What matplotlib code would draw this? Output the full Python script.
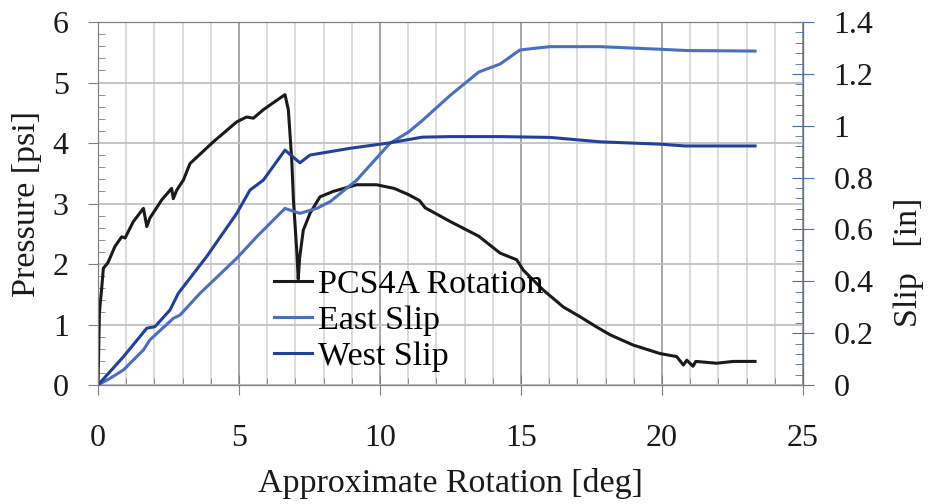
import numpy as np
import matplotlib
matplotlib.use("Agg")
import matplotlib.pyplot as plt
from matplotlib.ticker import MultipleLocator

plt.rcParams['font.family'] = ['Liberation Serif', 'DejaVu Serif']

# pressure (black) vs rotation
rot_p = [0.0, 0.05, 0.13, 0.19, 0.35, 0.6, 0.84, 0.96, 1.25, 1.61, 1.73, 1.84, 2.26,
         2.61, 2.67, 2.79, 3.03, 3.26, 4.09, 4.92, 5.27, 5.51, 5.86, 6.63, 6.75, 6.87,
         6.93, 7.05, 7.1, 7.15, 7.28, 7.52, 7.87, 8.34, 9.17, 9.88, 10.5, 11.0, 11.4,
         11.6, 12.5, 13.5, 14.26, 14.85, 15.08, 15.79, 16.5, 17.09, 17.68, 18.16, 18.98,
         19.93, 20.52, 20.76, 20.88, 21.1, 21.2, 21.94, 22.53, 23.3]
pressure = [0.0, 1.2, 1.6, 1.93, 2.02, 2.29, 2.45, 2.43, 2.7, 2.92, 2.62, 2.76, 3.06,
            3.25, 3.08, 3.22, 3.39, 3.66, 4.02, 4.35, 4.43, 4.41, 4.55, 4.8, 4.55, 3.72,
            3.06, 2.2, 1.75, 2.1, 2.56, 2.84, 3.11, 3.2, 3.31, 3.31, 3.25, 3.15, 3.05,
            2.93, 2.7, 2.46, 2.18, 2.07, 1.9, 1.57, 1.29, 1.13, 0.96, 0.83, 0.66,
            0.52, 0.47, 0.33, 0.41, 0.31, 0.39, 0.36, 0.39, 0.39]

# east slip (light blue)
rot_e = [0.0, 0.43, 0.9, 1.61, 1.84, 2.67, 2.91, 3.62, 4.92, 5.63, 6.63, 7.16, 7.75,
         8.23, 9.17, 10.35, 11.0, 11.5, 12.5, 13.5, 14.26, 14.96, 15.43, 16.03, 17.8,
         19.93, 20.88, 23.3]
east = [0.0, 0.026, 0.058, 0.135, 0.174, 0.257, 0.27, 0.354, 0.489, 0.572, 0.681, 0.662,
        0.681, 0.707, 0.79, 0.932, 0.975, 1.02, 1.118, 1.207, 1.238, 1.292, 1.298, 1.305,
        1.305, 1.295, 1.29, 1.288]

# west slip (dark blue)
rot_w = [0.0, 0.9, 1.73, 2.02, 2.55, 2.85, 3.85, 4.92, 5.39, 5.86, 6.63, 7.16, 7.52,
         8.94, 10.35, 11.5, 12.5, 14.26, 16.03, 17.8, 19.93, 20.82, 23.3]
west = [0.0, 0.109, 0.219, 0.225, 0.289, 0.354, 0.495, 0.662, 0.752, 0.79, 0.906, 0.857,
        0.887, 0.913, 0.934, 0.956, 0.958, 0.958, 0.955, 0.938, 0.929, 0.922, 0.922]

x_ticks = [0, 5, 10, 15, 20, 25]
p_ticks = [0, 1, 2, 3, 4, 5, 6]
s_ticks = [0, 0.2, 0.4, 0.6, 0.8, 1.0, 1.2, 1.4]
s_labels = ['0', '0.2', '0.4', '0.6', '0.8', '1', '1.2', '1.4']

c_black = '#1a1a1a'
c_east = '#4a6fbe'
c_west = '#22409a'

fig = plt.figure(figsize=(9.3, 5.04), dpi=100)
ax = fig.add_axes([0.1054, 0.2361, 0.758, 0.7202])
ax2 = ax.twinx()

ax.set_xticks(x_ticks)
ax.set_xticklabels([str(v) for v in x_ticks])
ax.set_yticks(p_ticks)
ax.set_yticklabels([str(v) for v in p_ticks])
ax2.set_yticks(s_ticks)
ax2.set_yticklabels(s_labels)
ax.xaxis.set_minor_locator(MultipleLocator(1))
ax.yaxis.set_minor_locator(MultipleLocator(0.2))
ax2.yaxis.set_minor_locator(MultipleLocator(0.04))

ax.set_xlim(0, 25)
ax.set_ylim(0, 6)
ax2.set_ylim(0, 1.4)

ax.grid(True, which='major', axis='x', color='#a0a0a0', lw=1.3)
ax.grid(True, which='minor', axis='x', color='#d2d2d2', lw=1.1)
ax.grid(True, which='major', axis='y', color='#c0c0c0', lw=1.3)
ax.set_axisbelow(True)

l1, = ax.plot(rot_p, pressure, color=c_black, lw=2.2, label='PCS4A Rotation')
l2, = ax2.plot(rot_e, east, color=c_east, lw=2.2, label='East Slip')
l3, = ax2.plot(rot_w, west, color=c_west, lw=2.2, label='West Slip')

for s in ['left', 'bottom', 'top']:
    ax.spines[s].set_color('#808080')
    ax2.spines[s].set_color('#808080')
ax2.spines['right'].set_color(c_east)

ax.tick_params(axis='y', which='major', direction='out', length=7, colors='#808080',
               labelcolor='#1a1a1a', labelsize=23, pad=14)
ax.tick_params(axis='y', which='minor', direction='in', length=5, colors='#808080')
ax.tick_params(axis='x', which='major', direction='inout', length=14, colors='#808080',
               labelcolor='#1a1a1a', labelsize=23, pad=21)
ax.tick_params(axis='x', which='minor', direction='in', length=5, colors='#808080')
ax2.tick_params(axis='y', which='major', direction='inout', length=16, colors=c_east,
                labelcolor='#1a1a1a', labelsize=23, pad=14)
ax2.tick_params(axis='y', which='minor', direction='in', length=6, colors=c_east)

ax.set_xlabel('Approximate Rotation [deg]', fontsize=24.5, color='#1a1a1a', labelpad=11)
ax.set_ylabel('Pressure [psi]', fontsize=24.5, color='#1a1a1a', labelpad=8)
ax2.set_ylabel('Slip   [in]', fontsize=24.5, color='#1a1a1a')
ax2.yaxis.set_label_coords(1.128, 0.337)

ax2.legend(handles=[l1, l2, l3], loc='upper left', bbox_to_anchor=(0.25, 0.318),
           frameon=False, fontsize=24.5, handlelength=1.1, handletextpad=0.2,
           labelspacing=0.15, borderpad=0, borderaxespad=0)

fig.savefig('out.png', dpi=100)
